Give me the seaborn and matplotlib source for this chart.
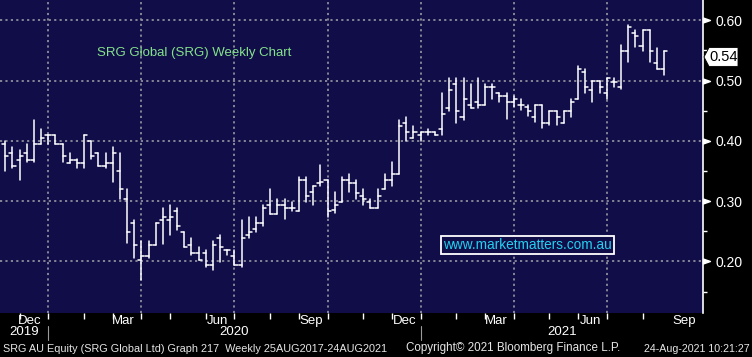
import numpy as np
import pandas as pd
import matplotlib
matplotlib.use("Agg")
import matplotlib.pyplot as plt
import matplotlib.dates as mdates
import matplotlib.transforms as mtransforms
from matplotlib.patches import Polygon
from matplotlib.path import Path
from matplotlib.ticker import FormatStrFormatter
import seaborn as sns

# ---------------- data (weekly OHLC, SRG AU) ----------------
week_end = pd.date_range("2019-11-22", "2021-08-27", freq="W-FRI")  # 94 weekly bars

opens = [0.394, 0.379, 0.369, 0.379, 0.369, 0.395, 0.410, 0.410, 0.395, 0.364,
         0.369, 0.364, 0.400, 0.379, 0.359, 0.364, 0.350, 0.303, 0.263, 0.203,
         0.209, 0.228, 0.269, 0.269, 0.284, 0.249, 0.228, 0.214, 0.214, 0.194,
         0.239, 0.219, 0.209, 0.194, 0.244, 0.254, 0.263, 0.293, 0.278, 0.293,
         0.288, 0.283, 0.335, 0.315, 0.330, 0.335, 0.285, 0.298, 0.335, 0.330,
         0.308, 0.299, 0.288, 0.320, 0.335, 0.345, 0.429, 0.404, 0.410, 0.414,
         0.414, 0.420, 0.454, 0.494, 0.439, 0.459, 0.464, 0.459, 0.489, 0.479,
         0.474, 0.464, 0.459, 0.456, 0.439, 0.459, 0.429, 0.449, 0.429, 0.449,
         0.469, 0.514, 0.484, 0.499, 0.479, 0.498, 0.489, 0.549, 0.578, 0.558,
         0.583, 0.529, 0.519, 0.544]
highs = [0.400, 0.390, 0.385, 0.395, 0.435, 0.420, 0.410, 0.410, 0.395, 0.380,
         0.370, 0.410, 0.400, 0.380, 0.380, 0.390, 0.380, 0.320, 0.269, 0.234,
         0.234, 0.263, 0.289, 0.293, 0.289, 0.249, 0.239, 0.224, 0.219, 0.234,
         0.244, 0.219, 0.219, 0.269, 0.273, 0.274, 0.293, 0.320, 0.303, 0.303,
         0.298, 0.340, 0.340, 0.325, 0.360, 0.335, 0.315, 0.340, 0.345, 0.335,
         0.320, 0.303, 0.320, 0.345, 0.365, 0.435, 0.440, 0.425, 0.415, 0.420,
         0.415, 0.479, 0.504, 0.504, 0.504, 0.494, 0.504, 0.494, 0.494, 0.479,
         0.479, 0.474, 0.469, 0.459, 0.459, 0.459, 0.449, 0.449, 0.449, 0.469,
         0.524, 0.519, 0.499, 0.499, 0.504, 0.504, 0.559, 0.592, 0.584, 0.584,
         0.583, 0.554, 0.549, 0.559]
lows = [0.350, 0.355, 0.335, 0.365, 0.365, 0.395, 0.395, 0.395, 0.365, 0.364,
        0.355, 0.355, 0.370, 0.359, 0.355, 0.331, 0.304, 0.230, 0.205, 0.169,
        0.205, 0.228, 0.229, 0.244, 0.252, 0.224, 0.210, 0.203, 0.190, 0.185,
        0.199, 0.210, 0.194, 0.190, 0.239, 0.249, 0.259, 0.278, 0.278, 0.270,
        0.284, 0.283, 0.298, 0.294, 0.325, 0.274, 0.280, 0.298, 0.315, 0.304,
        0.293, 0.288, 0.288, 0.320, 0.325, 0.345, 0.400, 0.404, 0.400, 0.410,
        0.410, 0.410, 0.449, 0.430, 0.435, 0.454, 0.454, 0.459, 0.469, 0.464,
        0.436, 0.456, 0.451, 0.441, 0.431, 0.421, 0.426, 0.426, 0.429, 0.439,
        0.469, 0.480, 0.465, 0.480, 0.470, 0.490, 0.486, 0.530, 0.555, 0.549,
        0.530, 0.519, 0.509, 0.519]
closes = [0.374, 0.359, 0.375, 0.369, 0.395, 0.404, 0.410, 0.395, 0.374, 0.369,
          0.364, 0.410, 0.375, 0.359, 0.364, 0.379, 0.320, 0.248, 0.228, 0.209,
          0.228, 0.263, 0.273, 0.273, 0.258, 0.224, 0.214, 0.203, 0.194, 0.228,
          0.224, 0.219, 0.194, 0.239, 0.249, 0.263, 0.289, 0.278, 0.293, 0.288,
          0.288, 0.335, 0.308, 0.325, 0.331, 0.284, 0.293, 0.335, 0.330, 0.314,
          0.303, 0.288, 0.308, 0.335, 0.345, 0.425, 0.414, 0.414, 0.414, 0.414,
          0.410, 0.444, 0.484, 0.449, 0.469, 0.454, 0.459, 0.489, 0.489, 0.474,
          0.464, 0.469, 0.459, 0.449, 0.459, 0.429, 0.449, 0.439, 0.449, 0.464,
          0.519, 0.489, 0.499, 0.489, 0.504, 0.498, 0.549, 0.588, 0.573, 0.583,
          0.549, 0.519, 0.549, 0.539]

y_ticks = [0.20, 0.30, 0.40, 0.50, 0.60]
y_minor = [0.15, 0.25, 0.35, 0.45, 0.55]
month_label_dates = ["2019-12-16", "2020-03-16", "2020-06-16", "2020-09-16",
                     "2020-12-16", "2021-03-16", "2021-06-16", "2021-09-16"]
month_labels = ["Dec", "Mar", "Jun", "Sep", "Dec", "Mar", "Jun", "Sep"]
title = "SRG Global (SRG) Weekly Chart"
watermark = "www.marketmatters.com.au"
footer_left = "SRG AU Equity (SRG Global Ltd) Graph 217  Weekly 25AUG2017-24AUG2021"
footer_mid = "Copyright\u00a9 2021 Bloomberg Finance L.P."
footer_right = "24-Aug-2021 10:21:27"

# ---------------- style ----------------
NAVY = "#100d48"
GRID = "#8e8e9c"
sns.set_theme(style="dark", rc={"axes.facecolor": NAVY, "figure.facecolor": "black",
                                "savefig.facecolor": "black", "axes.grid": False})
NARROW = ["Liberation Sans Narrow", "Liberation Sans", "DejaVu Sans"]
plt.rcParams["font.family"] = ["Liberation Sans", "DejaVu Sans"]

W, H = 752, 357
fig = plt.figure(figsize=(W / 100, H / 100), dpi=100, facecolor="black")
AX_W, AX_H = 703, 312.5
ax = fig.add_axes([0, 1 - AX_H / H, AX_W / W, AX_H / H])
ax.set_facecolor(NAVY)

# ---------------- OHLC bars via seaborn ----------------
x = mdates.date2num(week_end)
TICK_DAYS = 3.0
rows = []
for i, (xi, o, h, l, c) in enumerate(zip(x, opens, highs, lows, closes)):
    rows += [(f"hl{i}", xi, l), (f"hl{i}", xi, h),
             (f"o{i}", xi - TICK_DAYS, o), (f"o{i}", xi, o),
             (f"c{i}", xi, c), (f"c{i}", xi + TICK_DAYS, c)]
df = pd.DataFrame(rows, columns=["unit", "x", "price"])
sns.lineplot(data=df, x="x", y="price", units="unit", estimator=None, sort=False,
             color="white", linewidth=1.1, ax=ax, legend=False, zorder=3)

# ---------------- axes limits ----------------
ylo, yhi = 0.1153, 0.6335
ax.set_ylim(ylo, yhi)
ax.set_xlim(x[0] - 5.2, x[0] + 682.1)
ax.set_xlabel("")
ax.set_ylabel("")

s = pd.Series(week_end)
month_first = x[(s.dt.month != s.dt.month.shift()).values][1:]
quarter_first = x[(s.dt.quarter != s.dt.quarter.shift()).values][1:]
year_first = x[(s.dt.year != s.dt.year.shift()).values][1:]

# grid
for q in quarter_first:
    ax.axvline(q, color=GRID, lw=1.3, ls=(0, (1.2, 1.8)), zorder=1)
for yv in y_ticks:
    ax.axhline(yv, color=GRID, lw=1.3, ls=(0, (1.2, 1.8)), zorder=1)

# x axis: month ticks and labels
ax.set_xticks(month_first)
ax.set_xticklabels([])
ax.set_xticks(mdates.date2num(pd.to_datetime(month_label_dates)), minor=True)
ax.set_xticklabels(month_labels, minor=True)
ax.tick_params(axis="x", which="major", length=4, width=1, color="white",
               direction="out", bottom=True)
ax.tick_params(axis="x", which="minor", length=0, pad=1.5, labelsize=9.5,
               labelcolor="white", bottom=True)
for lab in ax.get_xticklabels(minor=True):
    lab.set_family(NARROW)

# y axis on right
ax.yaxis.tick_right()
ax.set_yticks(y_ticks)
ax.set_yticks(y_minor, minor=True)
ax.yaxis.set_major_formatter(FormatStrFormatter("%.2f"))
ax.tick_params(axis="y", which="major", length=7, width=1, color="white",
               labelcolor="white", labelsize=10, pad=2, right=True, left=False)
ax.tick_params(axis="y", which="minor", length=3, width=1, color="white",
               right=True, left=False)
arrow = Path([(0, -0.35), (1, 0), (0, 0.35), (0, -0.35)],
             [Path.MOVETO, Path.LINETO, Path.LINETO, Path.CLOSEPOLY])
for t in ax.yaxis.get_major_ticks():
    t.tick2line.set_marker(arrow)
    t.tick2line.set_markersize(10)
    t.tick2line.set_markerfacecolor("white")
    t.tick2line.set_markeredgecolor("white")

for side in ["left", "top", "bottom"]:
    ax.spines[side].set_visible(False)
ax.spines["right"].set_visible(True)
ax.spines["right"].set_color("white")
ax.spines["right"].set_linewidth(1.2)

# year labels and separators
xl = ax.get_xlim()
bt = mtransforms.blended_transform_factory(ax.transData, fig.transFigure)
bounds = [xl[0]] + list(year_first) + [xl[1]]
years = ["2019", "2020", "2021"]
for k, yr in enumerate(years):
    ax.text((bounds[k] + bounds[k + 1]) / 2, 1 - 332 / H, yr, transform=bt,
            ha="center", va="center", color="white", fontsize=9.5, family=NARROW,
            clip_on=False)
for yf in year_first:
    ax.plot([yf, yf], [1 - 326 / H, 1 - 340 / H], transform=bt, color="#9a9a9a",
            lw=0.8, clip_on=False)

# last price label
last = closes[-1]
px_y = (yhi - ylo) / AX_H
tr = mtransforms.blended_transform_factory(ax.transAxes, ax.transData)
hh = 9.4 * px_y
poly = Polygon([(1.0 + 1 / AX_W, last), (1.0 + 6 / AX_W, last + hh),
                (1.0 + 35 / AX_W, last + hh), (1.0 + 35 / AX_W, last - hh),
                (1.0 + 6 / AX_W, last - hh)], closed=True, transform=tr,
               facecolor="white", edgecolor="black", lw=0.6, clip_on=False, zorder=5)
ax.add_patch(poly)
ax.text(1.0 + 21 / AX_W, last, f"{last:.2f}", transform=tr, ha="center",
        va="center", color="black", fontsize=10.5, clip_on=False, zorder=6)

# title and watermark
ax.text(97.3 / AX_W, 1 - 55.7 / AX_H, title, transform=ax.transAxes,
        color="#84e28a", fontsize=9.5, va="baseline", ha="left")
ax.text(527.5 / AX_W, 1 - 244.6 / AX_H, watermark, transform=ax.transAxes,
        ha="center", va="center", color="#22d0f0", fontsize=9.8,
        bbox=dict(boxstyle="square,pad=0.15", fc=NAVY, ec="white", lw=1.3))

# footer
fy = 1 - 348.5 / H
fig.text(3 / W, fy, footer_left, color="#e6e6e6", fontsize=7.8, va="center",
         ha="left", family=NARROW)
fig.text(406 / W, fy, footer_mid, color="#e6e6e6", fontsize=8.4, va="center",
         ha="left", family=NARROW)
fig.text(750 / W, fy, footer_right, color="#e6e6e6", fontsize=7.7, va="center",
         ha="right", family=NARROW)

fig.savefig("out.png", dpi=100, facecolor="black")
